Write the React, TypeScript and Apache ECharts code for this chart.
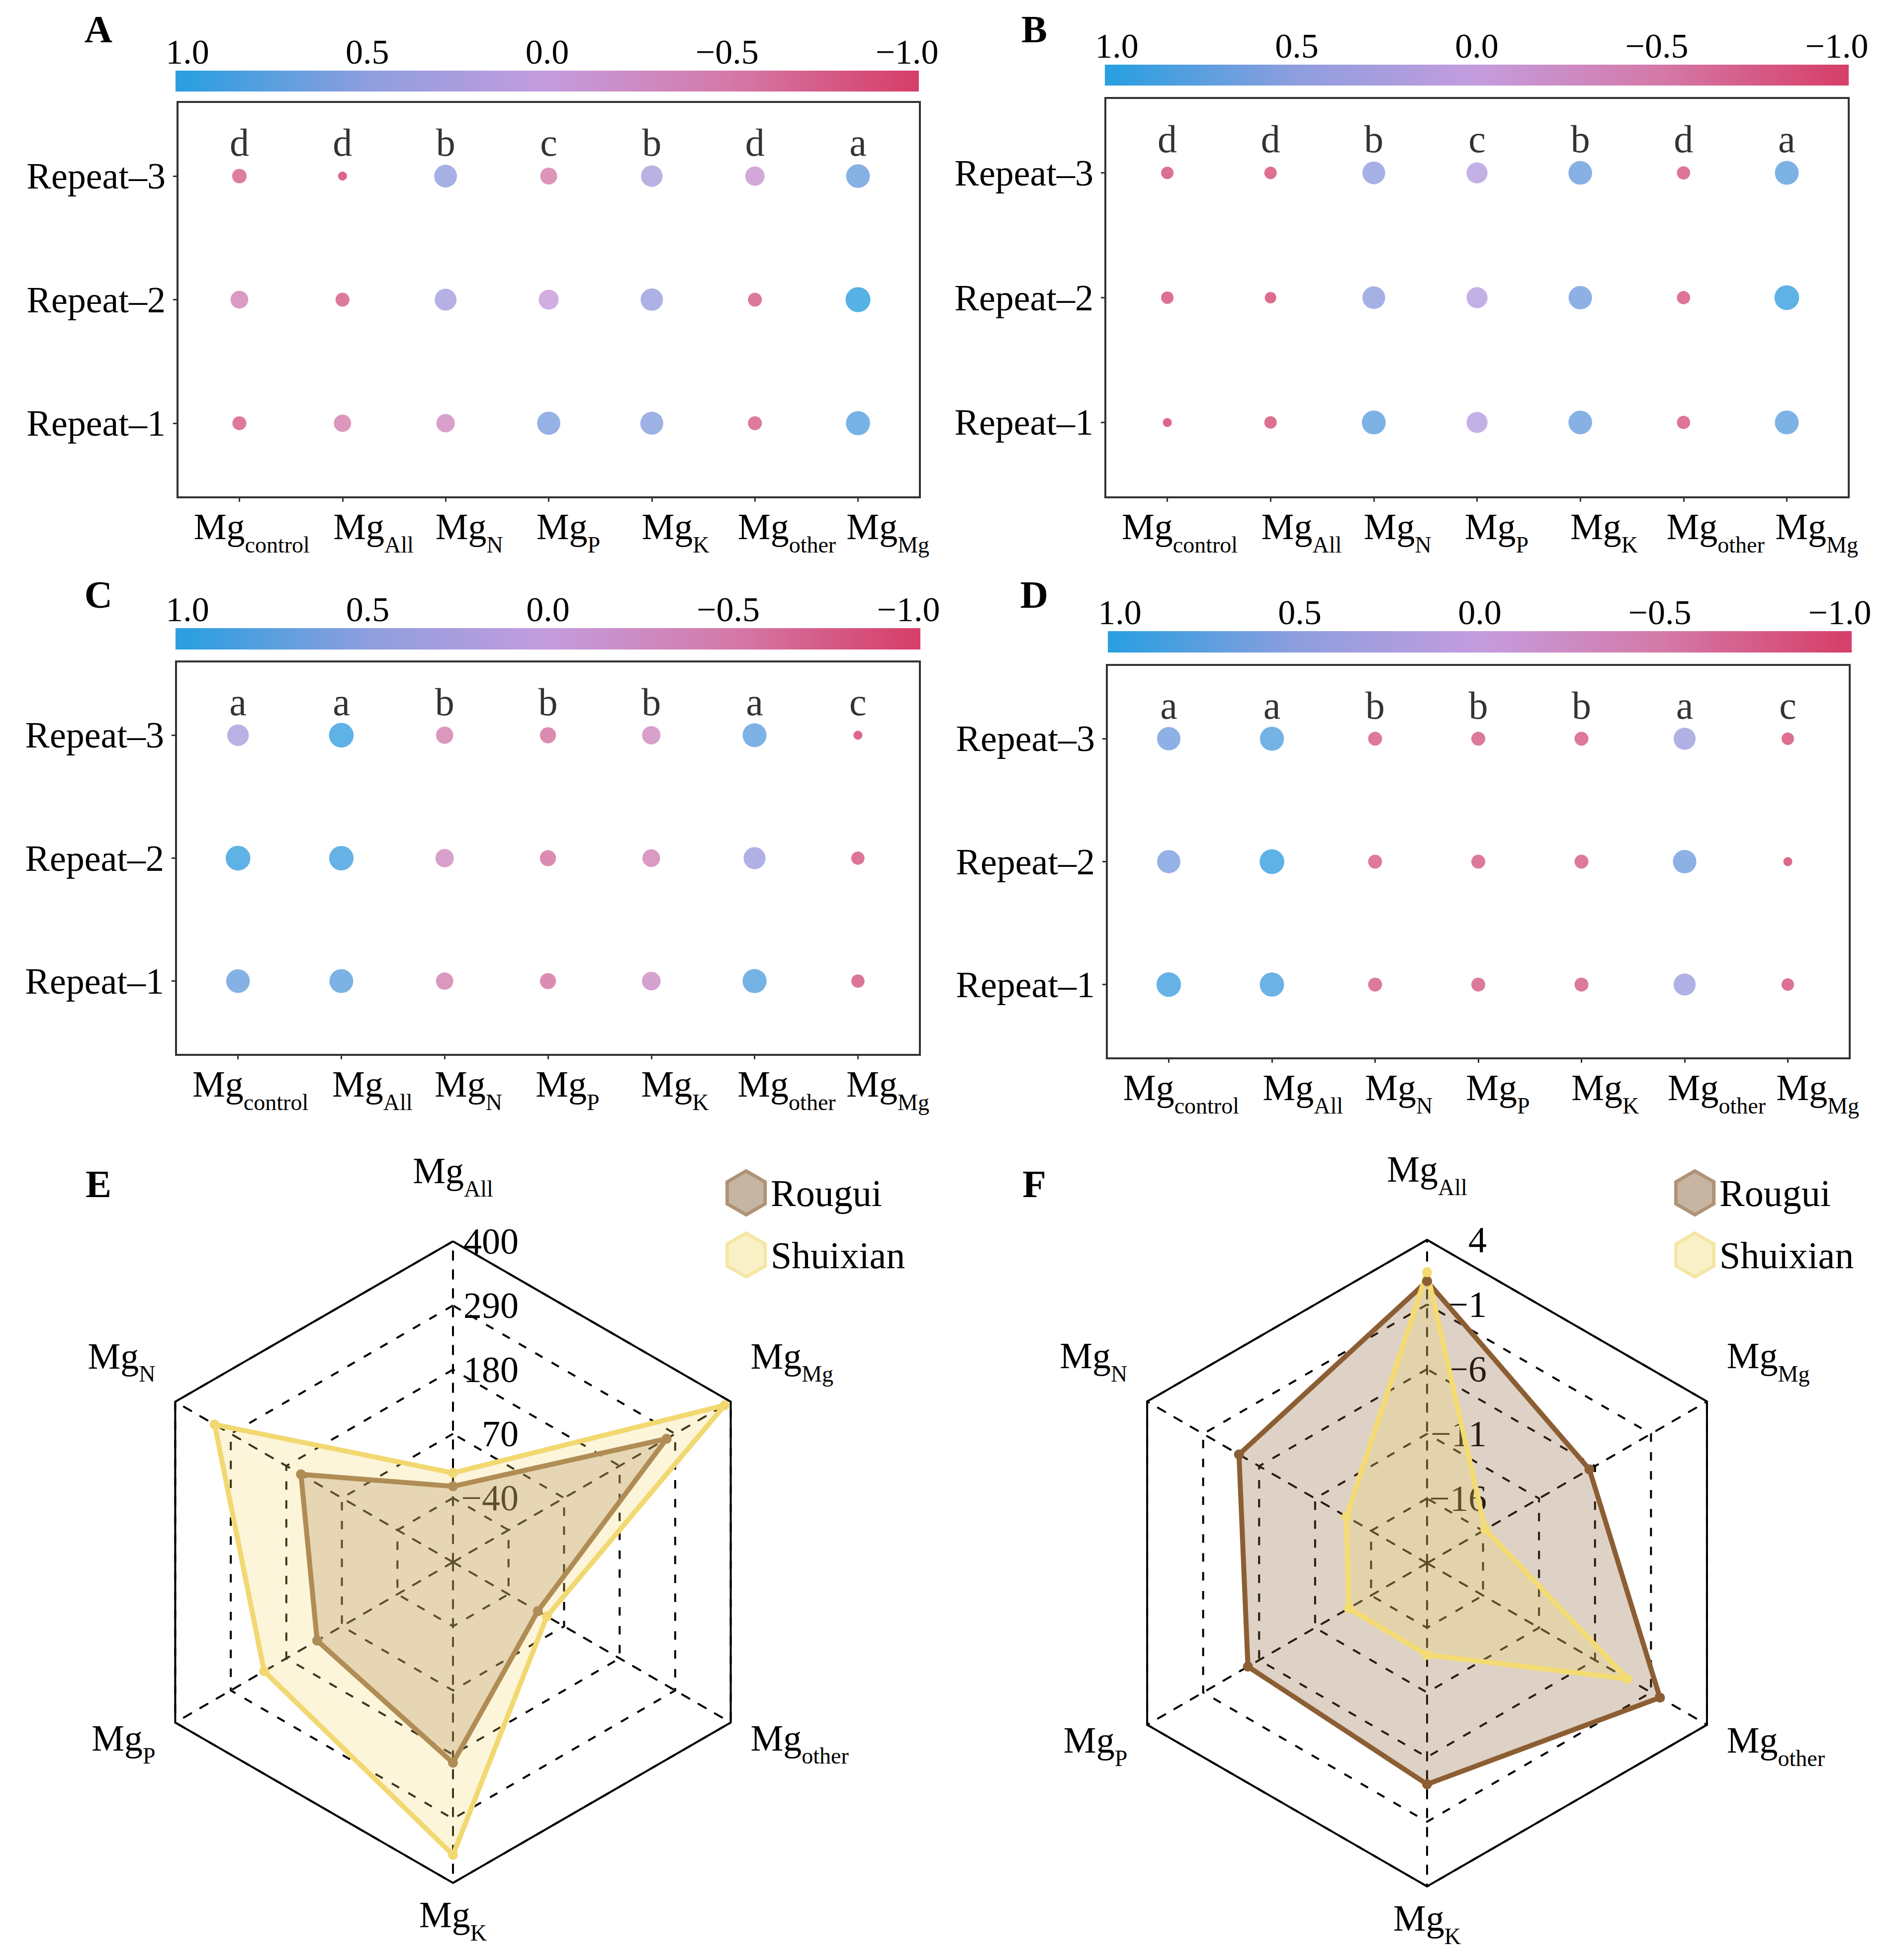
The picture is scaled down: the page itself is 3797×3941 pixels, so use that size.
import React, { useEffect, useRef } from 'react';
import * as echarts from 'echarts';

const FONT = "'Liberation Serif', 'Times New Roman', serif";

// ---------- Data ----------
const treatments = ['control', 'All', 'N', 'P', 'K', 'other', 'Mg'];
const repeats = ['Repeat–1', 'Repeat–2', 'Repeat–3'];
const colorbarTicks = [1, 0.5, 0, -0.5, -1];

// Panel A (correlation per treatment)
const aRepeat1 = [-0.8, -0.45, -0.3, 0.6, 0.55, -0.8, 0.8];
const aRepeat2 = [-0.4, -0.8, 0.3, -0.05, 0.4, -0.8, 1.0];
const aRepeat3 = [-0.75, -1.0, 0.5, -0.5, 0.25, -0.15, 0.7];
const aLetters = ['d', 'd', 'b', 'c', 'b', 'd', 'a'];

// Panel B
const bRepeat1 = [-1.0, -0.9, 0.75, 0.15, 0.7, -0.85, 0.75];
const bRepeat2 = [-0.9, -0.95, 0.5, 0.15, 0.65, -0.85, 0.95];
const bRepeat3 = [-0.9, -0.9, 0.5, 0.15, 0.7, -0.85, 0.75];
const bLetters = ['d', 'd', 'b', 'c', 'b', 'd', 'a'];

// Panel C
const cRepeat1 = [0.7, 0.75, -0.45, -0.6, -0.25, 0.8, -0.85];
const cRepeat2 = [0.95, 0.9, -0.3, -0.6, -0.4, 0.35, -0.85];
const cRepeat3 = [0.25, 0.95, -0.45, -0.6, -0.3, 0.75, -1.0];
const cLetters = ['a', 'a', 'b', 'b', 'b', 'a', 'c'];

// Panel D
const dRepeat1 = [0.9, 0.85, -0.8, -0.8, -0.8, 0.35, -0.9];
const dRepeat2 = [0.6, 0.95, -0.8, -0.8, -0.8, 0.65, -1.0];
const dRepeat3 = [0.65, 0.8, -0.8, -0.8, -0.8, 0.35, -0.9];
const dLetters = ['a', 'a', 'b', 'b', 'b', 'a', 'c'];

// Radar axes (counter-clockwise from top)
const radarAxes = ['All', 'N', 'P', 'K', 'other', 'Mg'];
const eRange = [-150, 400];
const eRougui = [-20, 151, 119, 194, 18, 273];
const eShuixian = [3, 322, 224, 352, 36, 388];
const fRange = [-21, 4];
const fRougui = [0.8, -4.2, -5.0, -3.9, -0.2, -6.5];
const fShuixian = [1.5, -13.8, -14.0, -13.9, -3.1, -15.8];

// ---------- Styles / layout ----------
const gradientColors = ['#D6416B', '#D47AA9', '#C49CDE', '#8E9EDE', '#2C9FE0']; // -1 .. 1
// horizontal offset of each x label centre from its tick, in category units
const xLabelShift = [0.12, 0.30, 0.23, 0.19, 0.23, 0.31, 0.29];
const HEX = 'path://M50,0 L93.3,25 L93.3,75 L50,100 L6.7,75 L6.7,25 Z';
const DASH = [17, 21];

const panels = [
  { key: 'A', rows: [aRepeat1, aRepeat2, aRepeat3], letters: aLetters, grid: { left: 357, top: 205, width: 1493, height: 795 }, bar: { left: 353, top: 142, width: 1495, height: 42 }, tag: [198, 58] },
  { key: 'B', rows: [bRepeat1, bRepeat2, bRepeat3], letters: bLetters, grid: { left: 2223, top: 197, width: 1495, height: 803 }, bar: { left: 2222, top: 130, width: 1496, height: 42 }, tag: [2080, 58] },
  { key: 'C', rows: [cRepeat1, cRepeat2, cRepeat3], letters: cLetters, grid: { left: 354, top: 1330, width: 1496, height: 791 }, bar: { left: 353, top: 1263, width: 1498, height: 43 }, tag: [198, 1195] },
  { key: 'D', rows: [dRepeat1, dRepeat2, dRepeat3], letters: dLetters, grid: { left: 2226, top: 1337, width: 1494, height: 791 }, bar: { left: 2228, top: 1269, width: 1496, height: 43 }, tag: [2080, 1195] },
];

const minus = (s: string) => s.replace('-', '\u2212');

// "Mg" + subscript as rich text. pt/pb: extra room above / below; lift: raise text inside a top-aligned block
function subRich(key: string, fsMain: number, fsSub: number, pt: number, pb: number, lift = 0) {
  const L = 96 + pt + pb - lift;
  return {
    ['m' + key]: { fontSize: fsMain, height: fsMain - 2 * lift, lineHeight: L, fontFamily: FONT, color: '#000', verticalAlign: 'top', padding: [pt, 0, 0, 0] },
    ['s' + key]: { fontSize: fsSub, height: fsSub, lineHeight: L, fontFamily: FONT, color: '#000', verticalAlign: 'bottom', padding: [0, 0, pb, 0] },
  };
}

const xRich: any = subRich('x', 74, 46, 0, 0);

// radar name vertical adjustments: [padTop, padBottom, lift]
const nameShift: Record<string, number[]> = { All: [0, 37, 0], N: [0, 116, 0], P: [38, 0, 0], K: [0, 0, 19], other: [38, 0, 0], Mg: [0, 116, 0] };
const rRich: any = {};
radarAxes.forEach((n) => Object.assign(rRich, subRich('r' + n, 74, 46, nameShift[n][0], nameShift[n][1], nameShift[n][2])));

function buildOption() {
  const grid: any[] = [];
  const xAxis: any[] = [];
  const yAxis: any[] = [];
  const series: any[] = [];
  const dotSeriesIdx: number[] = [];
  const graphic: any[] = [];
  const labelValues = treatments.map((t, i) => i + xLabelShift[i]);

  panels.forEach((p, pi) => {
    const gi = pi * 2;
    grid.push({ ...p.grid, show: true, borderColor: '#333', borderWidth: 4, backgroundColor: 'transparent', outerBoundsMode: 'none' });
    grid.push({ ...p.bar, show: false, outerBoundsMode: 'none' });

    xAxis.push({
      gridIndex: gi, type: 'value', min: -0.6, max: 6.6,
      axisLine: { show: true, onZero: false, lineStyle: { color: '#333', width: 4 } },
      axisTick: { show: true, length: 9, lineStyle: { color: '#333', width: 3 }, customValues: [0, 1, 2, 3, 4, 5, 6] },
      splitLine: { show: false },
      axisLabel: {
        customValues: labelValues, margin: 22, showMinLabel: true, showMaxLabel: true, hideOverlap: false,
        formatter: (v: number) => `{mx|Mg}{sx|${treatments[Math.floor(v + 1e-6)]}}`,
        rich: xRich,
      },
    });
    yAxis.push({
      gridIndex: gi, type: 'value', min: 0.4, max: 3.6,
      axisLine: { show: true, onZero: false, lineStyle: { color: '#333', width: 4 } },
      axisTick: { show: true, length: 9, lineStyle: { color: '#333', width: 3 }, customValues: [1, 2, 3] },
      splitLine: { show: false },
      axisLabel: {
        customValues: [1, 2, 3], margin: 24, fontSize: 74, fontFamily: FONT, color: '#000', showMinLabel: true, showMaxLabel: true,
        formatter: (v: number) => repeats[Math.round(v) - 1] || '',
      },
    });
    xAxis.push({
      gridIndex: gi + 1, type: 'value', min: -1.033, max: 1.033, inverse: true, position: 'top',
      axisLine: { show: false, onZero: false }, axisTick: { show: false }, splitLine: { show: false },
      axisLabel: {
        customValues: colorbarTicks, margin: 3, fontSize: 70, fontFamily: FONT, color: '#000', showMinLabel: true, showMaxLabel: true,
        formatter: (v: number) => minus(v.toFixed(1)),
      },
    });
    yAxis.push({
      gridIndex: gi + 1, type: 'value', min: 0, max: 1,
      axisLine: { show: false, onZero: false }, axisTick: { show: false }, splitLine: { show: false }, axisLabel: { show: false },
    });

    const dots: number[][] = [];
    p.rows.forEach((row, ri) => row.forEach((v, ci) => dots.push([ci, ri + 1, v])));
    dotSeriesIdx.push(series.length);
    series.push({
      type: 'scatter', xAxisIndex: gi, yAxisIndex: gi, data: dots, silent: true,
      symbol: 'circle',
      symbolSize: (val: number[]) => 18 + 32 * Math.sqrt((val[2] + 1) / 2),
    });
    series.push({
      type: 'scatter', xAxisIndex: gi, yAxisIndex: gi, silent: true, symbolSize: 1,
      itemStyle: { color: 'rgba(0,0,0,0)' },
      data: p.letters.map((l, i) => ({ value: [i, 3.27], label: { formatter: l } })),
      label: { show: true, position: 'inside', fontSize: 78, fontFamily: FONT, color: '#000' },
    });
    series.push({
      type: 'custom', xAxisIndex: gi + 1, yAxisIndex: gi + 1, silent: true,
      data: [[1.033, -1.033]],
      renderItem: (params: any, api: any) => {
        const a = api.coord([api.value(0), 0]);
        const b = api.coord([api.value(1), 1]);
        const stops = gradientColors.slice().reverse().map((c, k) => ({ offset: (1.033 - (1 - k * 0.5)) / 2.066, color: c }));
        return {
          type: 'rect',
          shape: { x: Math.min(a[0], b[0]), y: Math.min(a[1], b[1]), width: Math.abs(b[0] - a[0]), height: Math.abs(b[1] - a[1]) },
          style: { fill: new echarts.graphic.LinearGradient(0, 0, 1, 0, stops) },
        };
      },
    });
    graphic.push({ type: 'text', x: p.tag[0], y: p.tag[1], style: { text: p.key, fontSize: 78, fontWeight: 'bold', fontFamily: FONT, fill: '#000', align: 'center', verticalAlign: 'middle' } });
  });

  const radarBase = (center: number[], radius: number, range: number[], labelMargin: number) => ({
    center, radius, startAngle: 90, shape: 'polygon', splitNumber: 5,
    indicator: radarAxes.map((n, i) => ({ name: n, min: range[0], max: range[1], ...(i === 0 ? { axisLabel: { show: true } } : {}) })),
    axisNameGap: 46,
    axisName: { color: '#000', fontFamily: FONT, fontSize: 74, formatter: (n: string) => `{mr${n}|Mg}{sr${n}|${n}}`, rich: rRich },
    axisLine: { show: true, lineStyle: { color: '#000', width: 4, type: DASH } },
    splitLine: { show: true, lineStyle: { color: '#000', width: 4, type: DASH } },
    splitArea: { show: false },
    axisTick: { show: false },
    axisLabel: {
      show: false, fontSize: 74, fontFamily: FONT, color: '#000', margin: labelMargin, padding: [0, 0, 44, 0],
      formatter: (v: number) => (Math.abs(v - range[0]) < 1e-6 ? '' : minus(String(Math.round(v * 100) / 100))),
    },
  });
  const radarOuter = (center: number[], radius: number, range: number[]) => ({
    center, radius, startAngle: 90, shape: 'polygon', splitNumber: 1,
    indicator: radarAxes.map((n) => ({ name: n, min: range[0], max: range[1] })),
    axisName: { show: false },
    axisLine: { show: false },
    splitLine: { show: true, lineStyle: { color: '#000', width: 4, type: 'solid' } },
    splitArea: { show: false },
    axisTick: { show: false },
    axisLabel: { show: false },
  });

  const radar = [
    radarBase([911, 3141], 645, eRange, -132),
    radarOuter([911, 3141], 645, eRange),
    radarBase([2870, 3143], 650, fRange, -120),
    radarOuter([2870, 3143], 650, fRange),
  ];

  const radarSeries = (name: string, radarIndex: number, values: number[], color: string, fill: string) => ({
    type: 'radar', name, radarIndex, silent: true,
    symbol: 'circle', symbolSize: 20,
    itemStyle: { color },
    lineStyle: { color, width: 10 },
    areaStyle: { color: fill },
    data: [{ value: values, name }],
  });
  series.push(radarSeries('Shuixian', 0, eShuixian, '#F2D872', 'rgba(242,216,106,0.36)'));
  series.push(radarSeries('Rougui', 0, eRougui, '#B08D55', 'rgba(176,141,85,0.42)'));
  series.push(radarSeries('Rougui', 2, fRougui, '#8C5E33', 'rgba(140,94,51,0.41)'));
  series.push(radarSeries('Shuixian', 2, fShuixian, '#F4DC74', 'rgba(242,216,106,0.37)'));

  graphic.push({ type: 'text', x: 198, y: 2380, style: { text: 'E', fontSize: 78, fontWeight: 'bold', fontFamily: FONT, fill: '#000', align: 'center', verticalAlign: 'middle' } });
  graphic.push({ type: 'text', x: 2080, y: 2380, style: { text: 'F', fontSize: 78, fontWeight: 'bold', fontFamily: FONT, fill: '#000', align: 'center', verticalAlign: 'middle' } });

  const legendData = [
    { name: 'Rougui', icon: HEX, itemStyle: { color: '#C7B5A3', borderColor: '#AF9377', borderWidth: 7 } },
    { name: 'Shuixian', icon: HEX, itemStyle: { color: '#FAF0C8', borderColor: '#F5E6A6', borderWidth: 7 } },
  ];
  const legendBase = (left: number) => ({
    left, top: 2346, orient: 'vertical', itemWidth: 77, itemHeight: 88, itemGap: 30,
    selectedMode: false, data: legendData,
    textStyle: { fontSize: 76, fontFamily: FONT, color: '#000', padding: [0, 0, 0, 6] },
  });

  return {
    animation: false,
    backgroundColor: '#fff',
    textStyle: { fontFamily: FONT },
    grid, xAxis, yAxis, radar, series, graphic,
    legend: [legendBase(1454), legendBase(3362)],
    visualMap: {
      type: 'continuous', show: false, dimension: 2, min: -1, max: 1,
      seriesIndex: dotSeriesIdx,
      inRange: { color: gradientColors },
    },
  };
}

export default function App() {
  const ref = useRef<HTMLDivElement>(null);
  useEffect(() => {
    document.body.style.margin = '0';
    document.body.style.overflow = 'hidden';
    const chart = echarts.init(ref.current as HTMLDivElement, undefined, { renderer: 'svg' });
    chart.setOption(buildOption() as any);
    return () => chart.dispose();
  }, []);
  return <div ref={ref} style={{ width: 3797, height: 3941 }} />;
}
